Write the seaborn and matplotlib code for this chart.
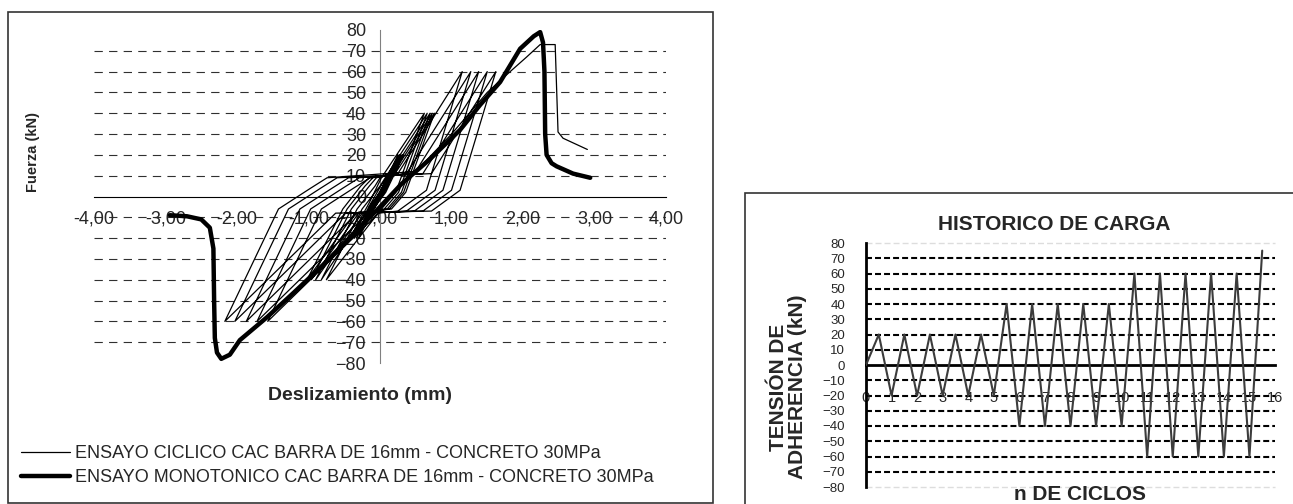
import pandas as pd
import matplotlib
matplotlib.use("Agg")
import matplotlib.pyplot as plt
import seaborn as sns
from matplotlib.lines import Line2D
from matplotlib.patches import Rectangle

sns.set_style("white")
plt.rcParams['font.family'] = ['Liberation Sans', 'DejaVu Sans']
plt.rcParams['lines.scale_dashes'] = False

# --- ensayo ciclico (vertices) ---
cyc_x = [0.00, 0.25,
         0.00, -0.15, -0.30, -0.05, 0.10, 0.27,
         0.02, -0.13, -0.33, -0.08, 0.07, 0.29,
         0.04, -0.11, -0.36, -0.11, 0.04, 0.31,
         0.06, -0.09, -0.39, -0.14, 0.01, 0.33,
         0.08, -0.07, -0.42,
         # ciclos 40 kN
         -0.15, 0.02, 0.62,
         0.22, 0.02, -0.75, -0.25, 0.00, 0.11, 0.66,
         0.26, 0.06, -0.20, -0.82, -0.32, -0.07, 0.00, 0.15, 0.70,
         0.30, 0.10, -0.25, -0.90, -0.40, -0.15, -0.05, 0.18, 0.73,
         0.33, 0.13, -0.30, -0.96, -0.46, -0.21, -0.10, 0.21, 0.76,
         0.36, 0.16, -0.35, -1.02,
         # ciclos 60 kN
         -0.52, -0.27, -0.15, 0.25, 1.15,
         0.65, 0.25, -0.02, -1.57, -0.82, -0.37, -0.14, 0.37, 1.27,
         0.77, 0.37, -0.17, -1.72, -0.97, -0.52, -0.29, 0.48, 1.38,
         0.88, 0.48, -0.32, -1.87, -1.12, -0.67, -0.44, 0.60, 1.50,
         1.00, 0.60, -0.48, -2.03, -1.28, -0.83, -0.60, 0.72, 1.62,
         1.12, 0.72, -0.62, -2.17,
         # carga final y falla
         -1.42, -0.97, -0.74, 0.50, 1.00, 1.50, 1.82, 2.05, 2.24, 2.45, 2.49, 2.56, 2.90]
cyc_y = [0, 20,
         2, -5, -20, -4, 5, 20,
         2, -5, -20, -4, 5, 20,
         2, -5, -20, -4, 5, 20,
         2, -5, -20, -4, 5, 20,
         2, -5, -20,
         -3, 9, 40,
         2, -6, -40, -6, 5, 11, 40,
         2, -6, -8, -40, -6, 5, 9, 11, 40,
         2, -6, -8, -40, -6, 5, 9, 11, 40,
         2, -6, -8, -40, -6, 5, 9, 11, 40,
         2, -6, -8, -40,
         -6, 5, 9, 11, 60,
         3, -7, -8, -60, -6, 4, 9, 11, 60,
         3, -7, -8, -60, -6, 4, 9, 11, 60,
         3, -7, -8, -60, -6, 4, 9, 11, 60,
         3, -7, -8, -60, -6, 4, 9, 11, 60,
         3, -7, -8, -60,
         -6, 4, 9, 12, 30, 50, 60, 67, 73, 73, 31, 28, 22.6]

# --- ensayo monotonico ---
mono_x = [-2.94, -2.70, -2.50, -2.38, -2.33, -2.32, -2.31, -2.28, -2.22, -2.10, -1.96,
          -1.58, -1.20, -0.80, -0.40, 0.00, 0.30, 0.70, 1.12, 1.40, 1.68, 1.96, 2.15,
          2.24, 2.28, 2.30, 2.31, 2.33, 2.40, 2.47, 2.70, 2.94]
mono_y = [-9, -9.5, -11, -15, -25, -50, -68, -75, -78, -76, -69,
          -58, -46, -33, -19, -5, 6, 18, 32, 44, 55, 71, 77,
          79, 74, 60, 30, 20, 16, 14.5, 11, 9]

x_ticks = [-4, -3, -2, -1, 0, 1, 2, 3, 4]
x_labels = ['-4,00', '-3,00', '-2,00', '-1,00', '0,00', '1,00', '2,00', '3,00', '4,00']
y_ticks = [-80, -70, -60, -50, -40, -30, -20, -10, 0, 10, 20, 30, 40, 50, 60, 70, 80]
leg_labels = ['ENSAYO CICLICO CAC BARRA DE 16mm - CONCRETO 30MPa',
              'ENSAYO MONOTONICO CAC BARRA DE 16mm - CONCRETO 30MPa']

# --- historico de carga ---
hist_x = [0, 0.5, 1, 1.5, 2, 2.5, 3, 3.5, 4, 4.5, 5, 5.5, 6, 6.5, 7, 7.5, 8, 8.5,
          9, 9.5, 10, 10.5, 11, 11.5, 12, 12.5, 13, 13.5, 14, 14.5, 15, 15.5]
hist_y = [0, 20, -20, 20, -20, 20, -20, 20, -20, 20, -20, 40, -40, 40, -40, 40, -40,
          40, -40, 40, -40, 60, -60, 60, -60, 60, -60, 60, -60, 60, -60, 75]
ciclos = list(range(17))

df_cyc = pd.DataFrame({'x': cyc_x, 'y': cyc_y})
df_mono = pd.DataFrame({'x': mono_x, 'y': mono_y})
df_hist = pd.DataFrame({'ciclo': hist_x, 'carga': hist_y})

W, H = 1293, 504
fig = plt.figure(figsize=(W / 100, H / 100), dpi=100)

# ---------------- grafico izquierdo ----------------
ax = fig.add_axes([94 / W, 1 - 363 / H, 572 / W, 333 / H])
ax.patch.set_alpha(0)
for v in y_ticks:
    if v not in (0, 80, -80):
        ax.axhline(v, color='#303030', lw=0.8, ls=(0, (6, 4.5)), zorder=0.5)

sns.lineplot(data=df_cyc, x='x', y='y', sort=False, estimator=None, color='black',
             lw=0.9, ax=ax, zorder=3, legend=False)
sns.lineplot(data=df_mono, x='x', y='y', sort=False, estimator=None, color='black',
             lw=3.2, ax=ax, zorder=3, legend=False,
             solid_capstyle='round', solid_joinstyle='round')

ax.set_xlim(-4, 4)
ax.set_ylim(-80, 80)
ax.spines['left'].set_position(('data', 0))
ax.spines['bottom'].set_position(('data', 0))
ax.spines['top'].set_visible(False)
ax.spines['right'].set_visible(False)
ax.spines['left'].set_color('#808080')
ax.spines['bottom'].set_color('black')
ax.set_xticks(x_ticks)
ax.set_xticklabels(x_labels)
ax.set_yticks(y_ticks)
ax.tick_params(axis='x', direction='out', length=5, width=1, pad=5, labelsize=13, color='black')
ax.tick_params(axis='y', direction='out', length=5, width=1, pad=5, labelsize=13, color='#808080')
ax.set_xlabel('')
ax.set_ylabel('')

fig.text(33 / W, 1 - 152 / H, 'Fuerza (kN)', rotation=90, ha='center', va='center',
         fontsize=10.5, fontweight='bold')
fig.text(360 / W, 1 - 395 / H, 'Deslizamiento (mm)', ha='center', va='center',
         fontsize=14, fontweight='bold')

handles = [Line2D([], [], color='black', lw=0.9),
           Line2D([], [], color='black', lw=3.2, solid_capstyle='round')]
fig.legend(handles, leg_labels, loc='upper left', bbox_to_anchor=(21 / W, 1 - 445 / H),
           frameon=False, fontsize=13, handlelength=2.7, handletextpad=0.3,
           labelspacing=0.4, borderpad=0, borderaxespad=0)

fig.add_artist(Rectangle((8 / W, 1 / H), 705 / W, 491 / H, transform=fig.transFigure,
                         fill=False, lw=1.2, ec='#333333'))

# ---------------- grafico derecho ----------------
ax2 = fig.add_axes([866 / W, 1 - 487 / H, 409 / W, 244 / H])
ax2.patch.set_alpha(0)
for v in y_ticks:
    if v in (80, -80):
        ax2.axhline(v, color='#dddddd', lw=1.0, ls=(0, (4.3, 2.2)), clip_on=False, zorder=0.5)
    elif v != 0:
        ax2.axhline(v, color='black', lw=1.5, ls=(0, (4.3, 2.2)), zorder=0.5)

sns.lineplot(data=df_hist, x='ciclo', y='carga', sort=False, estimator=None,
             color='#3c3c3c', lw=1.5, ax=ax2, zorder=3, legend=False)

ax2.set_xlim(0, 16)
ax2.set_ylim(-80, 80)
ax2.spines['bottom'].set_position(('data', 0))
ax2.spines['top'].set_visible(False)
ax2.spines['right'].set_visible(False)
ax2.spines['left'].set_linewidth(2)
ax2.spines['bottom'].set_linewidth(2)
ax2.spines['left'].set_color('black')
ax2.spines['bottom'].set_color('black')
ax2.set_xticks(ciclos)
ax2.set_yticks(y_ticks)
ax2.tick_params(axis='x', direction='out', length=5, width=1, pad=14, labelsize=10.5)
ax2.tick_params(axis='y', direction='out', length=3, width=1.5, pad=12, labelsize=9.5)
ax2.set_xlabel('')
ax2.set_ylabel('')

fig.text(1054 / W, 1 - 224 / H, 'HISTORICO DE CARGA', ha='center', va='center',
         fontsize=15, fontweight='bold')
fig.text(1080 / W, 1 - 494 / H, 'n DE CICLOS', ha='center', va='center',
         fontsize=15, fontweight='bold')
fig.text(788 / W, 1 - 387 / H, 'TENSIÓN DE\nADHERENCIA (kN)', rotation=90, ha='center',
         va='center', fontsize=15, fontweight='bold', linespacing=1.0, multialignment='center')

fig.add_artist(Rectangle((745 / W, -0.05), 0.6, 1 - 193 / H + 0.05, transform=fig.transFigure,
                         fill=False, lw=1.2, ec='#333333'))

fig.savefig('out.png', dpi=100)
